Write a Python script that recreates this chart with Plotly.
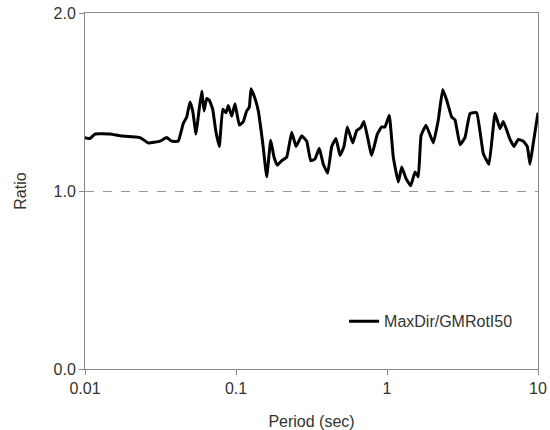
import plotly.graph_objects as go

period = [0.01, 0.0108, 0.01165, 0.01464, 0.01705, 0.02313, 0.02626, 0.03139, 0.03475, 0.03752,
          0.04149, 0.04477, 0.04716, 0.0496, 0.05168, 0.05434, 0.05628, 0.05928, 0.06141, 0.06397,
          0.06656, 0.0701, 0.0734, 0.07754, 0.08166, 0.08588, 0.08894, 0.09366, 0.09849, 0.1052,
          0.1118, 0.1177, 0.1225, 0.1257, 0.1336, 0.1405, 0.1503, 0.1597, 0.1698, 0.1785,
          0.1877, 0.2008, 0.2167, 0.2339, 0.2497, 0.2724, 0.2939, 0.3123, 0.3336, 0.3562,
          0.3786, 0.405, 0.4303, 0.4595, 0.4884, 0.519, 0.5459, 0.5928, 0.63, 0.6696,
          0.7042, 0.7917, 0.8627, 0.9224, 0.9701, 1.0356, 1.1009, 1.1881, 1.2516, 1.3364,
          1.4355, 1.5325, 1.6117, 1.6797, 1.8128, 2.026, 2.187, 2.338, 2.486, 2.683,
          2.82, 3.043, 3.285, 3.545, 3.927, 4.343, 4.737, 5.19, 5.602, 5.892,
          6.525, 6.935, 7.405, 7.991, 8.494, 8.851, 9.308, 10.0]
ratio = [1.30, 1.295, 1.32, 1.32, 1.31, 1.30, 1.27, 1.28, 1.30, 1.28,
         1.28, 1.38, 1.416, 1.50, 1.45, 1.32, 1.42, 1.56, 1.45, 1.52,
         1.51, 1.46, 1.34, 1.25, 1.46, 1.44, 1.48, 1.42, 1.49, 1.37,
         1.39, 1.45, 1.47, 1.575, 1.52, 1.45, 1.27, 1.08, 1.285, 1.19,
         1.145, 1.17, 1.19, 1.33, 1.25, 1.31, 1.28, 1.17, 1.18, 1.24,
         1.15, 1.10, 1.25, 1.295, 1.20, 1.25, 1.36, 1.27, 1.34, 1.355,
         1.39, 1.20, 1.32, 1.36, 1.36, 1.425, 1.19, 1.05, 1.135, 1.07,
         1.03, 1.107, 1.08, 1.31, 1.37, 1.27, 1.40, 1.57, 1.51, 1.415,
         1.40, 1.26, 1.30, 1.435, 1.44, 1.21, 1.15, 1.435, 1.35, 1.39,
         1.29, 1.25, 1.29, 1.28, 1.25, 1.15, 1.27, 1.44]

x_ticks = [0.01, 0.1, 1, 10]
x_labels = ["0.01", "0.1", "1", "10"]
y_ticks = [0, 1, 2]
y_labels = ["0.0", "1.0", "2.0"]

fig = go.Figure()
fig.add_trace(go.Scatter(x=period, y=ratio, mode="lines", name="MaxDir/GMRotI50",
                         line=dict(color="black", width=3, shape="spline", smoothing=0.3)))

fig.update_layout(
    width=550, height=430,
    margin=dict(l=85, r=12, t=13, b=61),
    paper_bgcolor="white", plot_bgcolor="white",
    font=dict(family="Liberation Sans, Arial, sans-serif", color="#333", size=16),
    showlegend=True,
    legend=dict(x=0.956, y=0.134, xanchor="right", yanchor="middle", itemwidth=30,
                bgcolor="rgba(0,0,0,0)", font=dict(size=16, color="#333")),
)
fig.update_xaxes(type="log", range=[-2, 1], tickvals=x_ticks, ticktext=x_labels,
                 automargin=False,
                 showline=True, linecolor="#888", linewidth=1, mirror=True,
                 ticks="outside", ticklen=5, tickcolor="#888",
                 showgrid=False, tickfont=dict(size=16),
                 title=dict(text="Period (sec)", font=dict(size=16), standoff=20))
fig.update_yaxes(range=[0, 2], tickvals=y_ticks, ticktext=y_labels,
                 automargin=False,
                 showline=True, linecolor="#888", linewidth=1, mirror=True,
                 ticks="outside", ticklen=5, tickcolor="#888",
                 showgrid=True, gridcolor="#999", griddash="dash", gridwidth=1,
                 zeroline=False, tickfont=dict(size=16),
                 title=dict(text="Ratio", font=dict(size=16), standoff=22))

fig.write_html("out.html")
